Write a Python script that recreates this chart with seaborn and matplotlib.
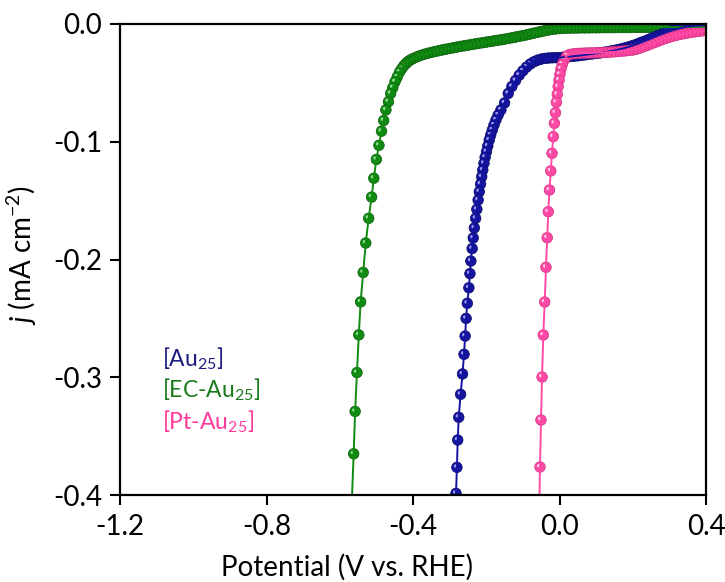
import numpy as np
import pandas as pd
import matplotlib
matplotlib.use("Agg")
import matplotlib.pyplot as plt
from matplotlib.path import Path
import seaborn as sns

# ---- LSV data: potential (V vs. RHE) and current density (mA cm^-2) ----
ec_au25_v = [-0.567, -0.562, -0.558, -0.553, -0.548, -0.543, -0.536, -0.529, -0.521, -0.513,
             -0.507, -0.500, -0.493, -0.486, -0.480, -0.474, -0.467, -0.461, -0.455, -0.449,
             -0.443, -0.437, -0.431, -0.425, -0.419, -0.413, -0.407, -0.400,
             -0.39, -0.38, -0.37, -0.36, -0.35, -0.34, -0.33, -0.32, -0.31, -0.30,
             -0.29, -0.28, -0.27, -0.26, -0.25, -0.24, -0.23, -0.22, -0.21, -0.20,
             -0.19, -0.18, -0.17, -0.16, -0.15, -0.14, -0.13, -0.12, -0.11, -0.10,
             -0.09, -0.08, -0.07, -0.06, -0.05, -0.04, -0.03, -0.02, -0.01, 0.00,
             0.01, 0.02, 0.03, 0.04, 0.05, 0.06, 0.07, 0.08, 0.09, 0.10,
             0.11, 0.12, 0.13, 0.14, 0.15, 0.16, 0.17, 0.18, 0.19, 0.20,
             0.21, 0.22, 0.23, 0.24, 0.25, 0.26, 0.27, 0.28, 0.29, 0.30,
             0.31, 0.32, 0.33, 0.34, 0.35, 0.36, 0.37, 0.38, 0.39, 0.40]
ec_au25_j = [-0.405, -0.365, -0.329, -0.296, -0.264, -0.236, -0.211, -0.186, -0.165, -0.147,
             -0.131, -0.115, -0.103, -0.091, -0.082, -0.073, -0.066, -0.059, -0.054, -0.049,
             -0.045, -0.041, -0.038, -0.0355, -0.0335, -0.0318, -0.0305, -0.0294,
             -0.0280, -0.0268, -0.0258, -0.0249, -0.0241, -0.0234, -0.0227, -0.0220, -0.0214, -0.0208,
             -0.0202, -0.0196, -0.0190, -0.0185, -0.0180, -0.0174, -0.0169, -0.0164, -0.0159, -0.0154,
             -0.0149, -0.0144, -0.0139, -0.0134, -0.0129, -0.0123, -0.0117, -0.0111, -0.0105, -0.0099,
             -0.0092, -0.0085, -0.0078, -0.0071, -0.0064, -0.0057, -0.0051, -0.0046, -0.0042, -0.0039,
             -0.0037, -0.0036, -0.0035, -0.0034, -0.0034, -0.0033, -0.0033, -0.0033, -0.0032, -0.0032,
             -0.0032, -0.0031, -0.0031, -0.0031, -0.0031, -0.0030, -0.0030, -0.0030, -0.0030, -0.0029,
             -0.0029, -0.0029, -0.0029, -0.0028, -0.0028, -0.0028, -0.0028, -0.0027, -0.0027, -0.0027,
             -0.0026, -0.0026, -0.0026, -0.0025, -0.0025, -0.0025, -0.0024, -0.0024, -0.0024, -0.0023]

au25_v = [-0.2855, -0.2826, -0.2801, -0.2779, -0.2752, -0.2700, -0.2648, -0.2607, -0.2577, -0.2550,
          -0.2517, -0.2475, -0.2445, -0.2420, -0.2385, -0.2355, -0.2325, -0.2290, -0.2258, -0.2222,
          -0.2190, -0.2155, -0.2124, -0.2095, -0.2062, -0.2030, -0.1993, -0.1958, -0.1918, -0.1878,
          -0.1835, -0.1788, -0.1735, -0.1675, -0.1600,
          -0.15, -0.14, -0.13, -0.12, -0.11, -0.10, -0.09, -0.08, -0.07, -0.06,
          -0.05, -0.04, -0.03, -0.02, -0.01, 0.00,
          0.01, 0.02, 0.03, 0.04, 0.05, 0.06, 0.07, 0.08, 0.09, 0.10,
          0.11, 0.12, 0.13, 0.14, 0.15, 0.16, 0.17, 0.18, 0.19, 0.20,
          0.21, 0.22, 0.23, 0.24, 0.25, 0.26, 0.27, 0.28, 0.29, 0.30,
          0.31, 0.32, 0.33, 0.34, 0.35, 0.36, 0.37, 0.38, 0.39, 0.40]
au25_j = [-0.420, -0.3986, -0.3765, -0.3533, -0.3340, -0.3145, -0.2972, -0.2805, -0.2650, -0.2500,
          -0.2372, -0.2240, -0.2120, -0.2013, -0.1907, -0.1817, -0.1732, -0.1650, -0.1574, -0.1495,
          -0.1424, -0.1359, -0.1297, -0.1240, -0.1183, -0.1132, -0.1084, -0.1036, -0.0985, -0.0943,
          -0.0900, -0.0858, -0.0815, -0.0773, -0.0730,
          -0.0670, -0.0590, -0.0530, -0.0480, -0.0435, -0.0398, -0.0366, -0.0340, -0.0321, -0.0307,
          -0.0298, -0.0292, -0.0289, -0.0287, -0.0286, -0.0285,
          -0.0282, -0.0279, -0.0276, -0.0273, -0.0270, -0.0266, -0.0262, -0.0258, -0.0254, -0.0250,
          -0.0246, -0.0241, -0.0236, -0.0230, -0.0224, -0.0217, -0.0210, -0.0202, -0.0193, -0.0183,
          -0.0172, -0.0160, -0.0148, -0.0136, -0.0123, -0.0110, -0.0097, -0.0085, -0.0073, -0.0062,
          -0.0052, -0.0043, -0.0035, -0.0028, -0.0022, -0.0018, -0.0015, -0.0013, -0.0011, -0.0010]

pt_au25_v = [-0.0558, -0.0532, -0.0505, -0.0476, -0.0442, -0.0404, -0.0369, -0.0336, -0.0306, -0.0274,
             -0.0238, -0.0204, -0.0171, -0.0140, -0.0110, -0.0084, -0.0060, -0.0036, -0.0012, 0.0012,
             0.0041, 0.0076, 0.0125, 0.0196, 0.0287,
             0.04, 0.05, 0.06, 0.07, 0.08, 0.09, 0.10,
             0.11, 0.12, 0.13, 0.14, 0.15, 0.16, 0.17, 0.18, 0.19, 0.20,
             0.21, 0.22, 0.23, 0.24, 0.25, 0.26, 0.27, 0.28, 0.29, 0.30,
             0.31, 0.32, 0.33, 0.34, 0.35, 0.36, 0.37, 0.38, 0.39, 0.40]
pt_au25_j = [-0.418, -0.3762, -0.3363, -0.2998, -0.2641, -0.2361, -0.2066, -0.1815, -0.1594, -0.1410,
             -0.1248, -0.1098, -0.0957, -0.0843, -0.0753, -0.0665, -0.0597, -0.0532, -0.0476, -0.0427,
             -0.0382, -0.0342, -0.0306, -0.0272, -0.0258,
             -0.0252, -0.0250, -0.0248, -0.0247, -0.0246, -0.0245, -0.0244,
             -0.0243, -0.0242, -0.0240, -0.0238, -0.0236, -0.0234, -0.0231, -0.0228, -0.0225, -0.0221,
             -0.0214, -0.0204, -0.0193, -0.0181, -0.0169, -0.0157, -0.0145, -0.0133, -0.0122, -0.0112,
             -0.0103, -0.0095, -0.0088, -0.0082, -0.0076, -0.0071, -0.0066, -0.0062, -0.0058, -0.0055]

x_ticks = [-1.2, -0.8, -0.4, 0.0, 0.4]
y_ticks = [0.0, -0.1, -0.2, -0.3, -0.4]

# ---- style ----
sns.set_theme(style="white")
plt.rcParams['font.family'] = ['Lato', 'DejaVu Sans']
plt.rcParams['mathtext.fontset'] = 'custom'
plt.rcParams['mathtext.rm'] = 'Lato'
plt.rcParams['mathtext.it'] = 'Lato:italic'
plt.rcParams['axes.unicode_minus'] = False

fig = plt.figure(figsize=(7.25, 5.82), dpi=100)
ax = fig.add_axes([120 / 725, 1 - 495 / 582, 586 / 725, 471 / 582])

# small off-centre disc used as the specular highlight of each bead
shine_marker = Path.circle(center=(-0.9, 0.9), radius=1.1)


def draw_series(v, j, color, dark, light):
    # sweep runs from positive to negative potential
    v = np.asarray(v)[::-1]
    j = np.asarray(j)[::-1]
    sns.lineplot(x=v, y=j, sort=False, estimator=None, color=color, lw=1.4, ax=ax)
    n = len(v)
    beads = pd.DataFrame({
        "V": np.repeat(v, 2),
        "j": np.repeat(j, 2),
        "part": ["ball", "shine"] * n,
    })
    edge = [dark, (0, 0, 0, 0)] * n
    sns.scatterplot(data=beads, x="V", y="j", hue="part", style="part", size="part",
                    palette={"ball": color, "shine": light},
                    markers={"ball": "o", "shine": shine_marker},
                    sizes={"ball": 58, "shine": 19},
                    edgecolor=edge, linewidth=0.5, legend=False, ax=ax)


draw_series(ec_au25_v, ec_au25_j, "#108a10", "#0a5a0a", "#8fdc8f")
draw_series(au25_v, au25_j, "#1414a0", "#0a0a68", "#9a9aef")
draw_series(pt_au25_v, pt_au25_j, "#ff4aa5", "#d02a80", "#ffd0e8")

ax.set_xlim(-1.2, 0.4)
ax.set_ylim(-0.4, 0.0)
ax.set_xticks(x_ticks)
ax.set_xticklabels([f"{t:.1f}" for t in x_ticks])
ax.set_yticks(y_ticks)
ax.set_yticklabels([f"{t:.1f}" for t in y_ticks])
ax.tick_params(axis="both", which="major", direction="out", length=7, width=1.5,
               labelsize=20, colors="black",
               bottom=True, left=True, top=False, right=False)
ax.tick_params(axis="x", pad=7)
ax.tick_params(axis="y", pad=6)
for side in ax.spines.values():
    side.set_visible(True)
    side.set_color("black")
    side.set_linewidth(1.6)

ax.set_xlabel("Potential (V vs. RHE)", fontsize=20, color="black")
ax.set_ylabel(r"$j$ (mA cm$^{-2}$)", fontsize=20, color="black")
ax.xaxis.set_label_coords(0.388, -0.125)
ax.yaxis.set_label_coords(-0.138, 0.51)

ax.text(0.072, 0.289, r"[Au$_{25}$]", color="#1c1c80", fontsize=16.5,
        transform=ax.transAxes, va="center")
ax.text(0.072, 0.223, r"[EC-Au$_{25}$]", color="#1a7a1a", fontsize=16.5,
        transform=ax.transAxes, va="center")
ax.text(0.072, 0.155, r"[Pt-Au$_{25}$]", color="#ff3a9c", fontsize=16.5,
        transform=ax.transAxes, va="center")

fig.savefig("out.png", dpi=100)
